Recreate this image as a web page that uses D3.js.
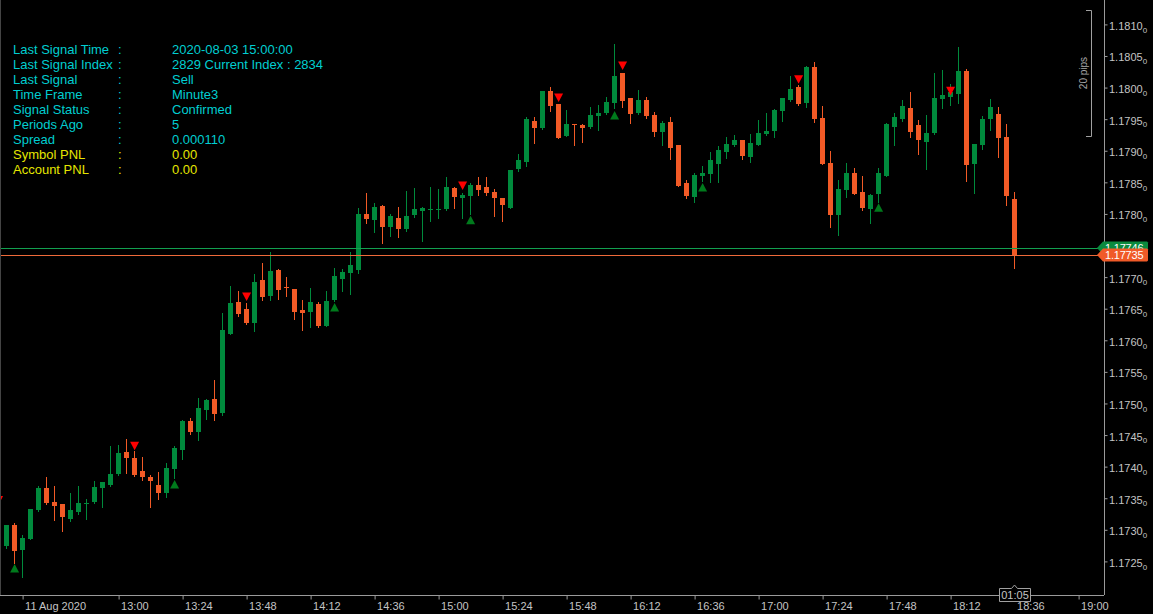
<!DOCTYPE html>
<html><head><meta charset="utf-8">
<script src="https://cdn.jsdelivr.net/npm/d3@7"></script>
<style>html,body{margin:0;padding:0;background:#000;overflow:hidden}</style>
</head><body><svg id="chart" width="1153" height="614"></svg>
<script>
// ---------- DATA ----------
const times = ["12:15","12:18","12:21","12:24","12:27","12:30","12:33","12:36","12:39","12:42","12:45","12:48","12:51","12:54","12:57",
"13:00","13:03","13:06","13:09","13:12","13:15","13:18","13:21","13:24","13:27","13:30","13:33","13:36","13:39","13:42","13:45","13:48","13:51","13:54","13:57",
"14:00","14:03","14:06","14:09","14:12","14:15","14:18","14:21","14:24","14:27","14:30","14:33","14:36","14:39","14:42","14:45","14:48","14:51","14:54","14:57",
"15:00","15:03","15:06","15:09","15:12","15:15","15:18","15:21","15:24","15:27","15:30","15:33","15:36","15:39","15:42","15:45","15:48","15:51","15:54","15:57",
"16:00","16:03","16:06","16:09","16:12","16:15","16:18","16:21","16:24","16:27","16:30","16:33","16:36","16:39","16:42","16:45","16:48","16:51","16:54","16:57",
"17:00","17:03","17:06","17:09","17:12","17:15","17:18","17:21","17:24","17:27","17:30","17:33","17:36","17:39","17:42","17:45","17:48","17:51","17:54","17:57",
"18:00","18:03","18:06","18:09","18:12","18:15","18:18","18:21","18:24","18:27","18:30","18:33","18:36"];

const open = [1.17327,1.17274,1.17308,1.17268,1.17285,1.17331,1.17366,1.17344,1.17341,1.17317,1.17328,1.17341,1.17344,1.17366,1.17371,
1.17388,1.17423,1.17414,1.17393,1.17384,1.17371,1.17358,1.17396,1.17426,1.17472,
1.17455,1.17490,1.17507,1.17485,1.17610,1.17661,1.17650,1.17627,1.17695,1.17670,
1.17711,1.17684,1.17681,1.17648,1.17645,1.17657,1.17623,1.17664,1.17697,1.17707,
1.17711,1.17800,1.17790,1.17813,1.17779,1.17794,1.17776,1.17798,1.17805,1.17807,
1.17807,1.17808,1.17841,1.17825,1.17828,1.17846,1.17843,1.17835,1.17825,1.17809,
1.17871,1.17882,1.17947,1.17936,1.17995,1.17974,1.17923,1.17942,1.17941,1.17938,
1.17955,1.17960,1.17976,1.18023,1.17983,1.17960,1.17980,1.17957,1.17930,1.17946,
1.17909,1.17849,1.17827,1.17860,1.17863,1.17879,1.17898,1.17909,1.17917,1.17890,
1.17909,1.17927,1.17931,1.17963,1.17980,1.18001,1.17976,1.18033,1.17952,1.17881,
1.17798,1.17838,1.17865,1.17835,1.17808,1.17832,1.17860,1.17938,1.17950,1.17968,
1.17941,1.17914,1.17928,1.17982,1.17985,1.17990,1.18026,1.17879,1.17909,1.17950,
1.17958,1.17922,1.17824];

const high = [1.17335,1.17308,1.17311,1.17291,1.17333,1.17369,1.17384,1.17369,1.17341,1.17358,1.17369,1.17349,1.17377,1.17376,1.17433,
1.17434,1.17444,1.17425,1.17415,1.17387,1.17392,1.17406,1.17433,1.17474,1.17477,
1.17509,1.17507,1.17537,1.17643,1.17686,1.17678,1.17659,1.17705,1.17722,1.17740,
1.17713,1.17700,1.17681,1.17664,1.17683,1.17661,1.17678,1.17714,1.17713,1.17740,
1.17809,1.17833,1.17817,1.17814,1.17800,1.17811,1.17836,1.17841,1.17811,1.17843,
1.17839,1.17858,1.17843,1.17833,1.17849,1.17858,1.17858,1.17839,1.17825,1.17870,
1.17895,1.17953,1.17953,1.17995,1.18001,1.17974,1.17965,1.17942,1.17942,1.17969,
1.17972,1.17985,1.18069,1.18023,1.17983,1.17996,1.17985,1.17961,1.17947,1.17953,
1.17909,1.17854,1.17865,1.17876,1.17898,1.17908,1.17922,1.17925,1.17917,1.17927,
1.17949,1.17960,1.17966,1.17983,1.18018,1.18004,1.18034,1.18040,1.17971,1.17900,
1.17854,1.17881,1.17873,1.17860,1.17832,1.17873,1.17944,1.17960,1.17980,1.17993,
1.17949,1.17957,1.18023,1.18028,1.18006,1.18064,1.18029,1.17911,1.17955,1.17982,
1.17969,1.17942,1.17835];

const low = [1.17271,1.17272,1.17248,1.17226,1.17285,1.17330,1.17341,1.17316,1.17298,1.17314,1.17325,1.17317,1.17342,1.17336,1.17369,
1.17387,1.17390,1.17385,1.17379,1.17336,1.17349,1.17352,1.17382,1.17412,1.17452,
1.17442,1.17475,1.17474,1.17482,1.17610,1.17638,1.17626,1.17615,1.17664,1.17664,
1.17665,1.17670,1.17634,1.17616,1.17621,1.17621,1.17623,1.17662,1.17678,1.17673,
1.17707,1.17786,1.17771,1.17754,1.17765,1.17763,1.17773,1.17795,1.17757,1.17789,
1.17794,1.17806,1.17809,1.17794,1.17800,1.17830,1.17830,1.17797,1.17789,1.17809,
1.17868,1.17876,1.17912,1.17934,1.17963,1.17920,1.17923,1.17909,1.17914,1.17936,
1.17933,1.17958,1.17968,1.17969,1.17944,1.17958,1.17952,1.17923,1.17909,1.17887,
1.17844,1.17825,1.17819,1.17852,1.17851,1.17851,1.17889,1.17908,1.17887,1.17882,
1.17909,1.17925,1.17922,1.17947,1.17979,1.17972,1.17969,1.17946,1.17879,1.17779,
1.17767,1.17827,1.17832,1.17806,1.17786,1.17819,1.17860,1.17909,1.17947,1.17922,
1.17895,1.17871,1.17927,1.17968,1.17972,1.17976,1.17852,1.17833,1.17903,1.17933,
1.17890,1.17814,1.17714];

const close = [1.17276,1.17308,1.17267,1.17287,1.17333,1.17366,1.17342,1.17338,1.17320,1.17331,1.17342,1.17342,1.17368,1.17376,1.17388,
1.17422,1.17414,1.17387,1.17384,1.17377,1.17358,1.17398,1.17430,1.17472,1.17455,
1.17493,1.17505,1.17483,1.17616,1.17659,1.17642,1.17627,1.17692,1.17669,1.17710,
1.17680,1.17683,1.17645,1.17643,1.17661,1.17623,1.17662,1.17702,1.17708,1.17719,
1.17800,1.17792,1.17811,1.17779,1.17797,1.17776,1.17797,1.17808,1.17809,1.17808,
1.17808,1.17843,1.17827,1.17830,1.17846,1.17838,1.17833,1.17825,1.17814,1.17870,
1.17885,1.17950,1.17936,1.17995,1.17971,1.17920,1.17942,1.17941,1.17936,1.17957,
1.17960,1.17977,1.18018,1.17979,1.17958,1.17980,1.17955,1.17930,1.17944,1.17904,
1.17844,1.17828,1.17862,1.17865,1.17885,1.17901,1.17911,1.17917,1.17892,1.17912,
1.17928,1.17931,1.17965,1.17983,1.17998,1.17974,1.18033,1.17950,1.17879,1.17798,
1.17839,1.17865,1.17832,1.17809,1.17830,1.17865,1.17942,1.17953,1.17971,1.17930,
1.17917,1.17928,1.17983,1.17988,1.17993,1.18026,1.17877,1.17911,1.17950,1.17969,
1.17920,1.17828,1.17735];

// signal arrows: time of bar and price at the arrow tip
const sellTimes  = ["12:15","13:06","13:48","15:09","15:45","16:09","17:15","18:12"];
const sellPrices = [1.17340,1.17426,1.17662,1.17838,1.17977,1.18028,1.18006,1.17988];
const buyTimes   = ["12:21","13:21","14:21","15:12","16:06","16:39","17:45"];
const buyPrices  = [1.17246,1.17379,1.17659,1.17797,1.17963,1.17849,1.17817];

const askPrice = 1.17746, bidPrice = 1.17735;
const priceTicks = [1.1725,1.1730,1.1735,1.1740,1.1745,1.1750,1.1755,1.1760,1.1765,1.1770,1.1775,1.1780,1.1785,1.1790,1.1795,1.1800,1.1805,1.1810];
const timeTicks = ["12:24","13:00","13:24","13:48","14:12","14:36","15:00","15:24","15:48","16:12","16:36","17:00","17:24","17:48","18:12","18:36","19:00"];
const timeTickLabels = ["11 Aug 2020","13:00","13:24","13:48","14:12","14:36","15:00","15:24","15:48","16:12","16:36","17:00","17:24","17:48","18:12","18:36","19:00"];
const countdown = "01:05";
const pipsLabel = "20 pips";

const infoLabels = ["Last Signal Time","Last Signal Index","Last Signal","Time Frame","Signal Status","Periods Ago","Spread","Symbol PNL","Account PNL"];
const infoValues = ["2020-08-03 15:00:00","2829 Current Index : 2834","Sell","Minute3","Confirmed","5","0.000110","0.00","0.00"];
const infoKinds  = ["c","c","c","c","c","c","c","y","y"];

// ---------- DRAW ----------
const parse = s => new Date(2020,7,11,+s.slice(0,2),+s.slice(3,5));
const svg = d3.select('#chart');
const plotR = 1104, plotB = 595;
const BULL = '#008a3c', BEAR = '#f25a26', AXIS = '#9a9a9a', TXT = '#c4c4c4';
const FONT = '"Liberation Sans", Arial, sans-serif';

svg.append('rect').attr('width',1153).attr('height',614).attr('fill','#000');

const x = d3.scaleTime().domain([parse("12:15"), parse("19:00")]).range([-1.4, 1078.6]);
const y = d3.scaleLinear().domain([1.1725, 1.1810]).range([561.4, 24.4]);

svg.append('clipPath').attr('id','plot').append('rect').attr('x',0).attr('y',0).attr('width',plotR).attr('height',plotB);
const plot = svg.append('g').attr('clip-path','url(#plot)');

// info panel
const info = svg.append('g').attr('font-family',FONT).attr('font-size',13);
infoLabels.forEach((lab,i)=>{
  const col = infoKinds[i]==='y' ? '#e6e600' : '#00ced1';
  const yy = 49 + i*15.1;
  info.append('text').attr('x',13).attr('y',yy).attr('dy','0.35em').attr('fill',col).text(lab);
  info.append('text').attr('x',118).attr('y',yy).attr('dy','0.35em').attr('fill',col).text(':');
  info.append('text').attr('x',172).attr('y',yy).attr('dy','0.35em').attr('fill',col).text(infoValues[i]);
});

// candles
const bars = times.map((t,i)=>({t:parse(t),o:open[i],h:high[i],l:low[i],c:close[i]}));
const cg = plot.append('g');
bars.forEach(b=>{
  const cx = Math.floor(x(b.t));
  const col = b.c >= b.o ? BULL : BEAR;
  cg.append('line').attr('x1',cx+0.5).attr('x2',cx+0.5)
    .attr('y1',Math.round(y(b.h))).attr('y2',Math.round(y(b.l))+1)
    .attr('stroke',col).attr('stroke-width',1);
  const top = Math.round(y(Math.max(b.o,b.c))), bot = Math.round(y(Math.min(b.o,b.c)));
  cg.append('rect').attr('x',cx-2).attr('width',5).attr('y',top).attr('height',Math.max(1,bot-top)).attr('fill',col);
});

// signal arrows
sellTimes.forEach((t,i)=>{
  const cx = x(parse(t)), ty = y(sellPrices[i]);
  plot.append('path').attr('d',`M${cx-4.5},${ty-8.5}L${cx+4.5},${ty-8.5}L${cx},${ty}Z`).attr('fill','#ff0000');
});
buyTimes.forEach((t,i)=>{
  const cx = x(parse(t)), ty = y(buyPrices[i]);
  plot.append('path').attr('d',`M${cx-4.5},${ty+8.5}L${cx+4.5},${ty+8.5}L${cx},${ty}Z`).attr('fill','#007a1c');
});

// ask/bid lines
const askY = Math.round(y(askPrice))+0.5, bidY = Math.round(y(bidPrice))+0.5;
svg.append('line').attr('x1',0).attr('x2',1098).attr('y1',askY).attr('y2',askY).attr('stroke','#12a050').attr('stroke-width',1);
svg.append('line').attr('x1',0).attr('x2',1098).attr('y1',bidY).attr('y2',bidY).attr('stroke','#ee6a3a').attr('stroke-width',1);

// left edge line
svg.append('line').attr('x1',0.5).attr('x2',0.5).attr('y1',0).attr('y2',plotB).attr('stroke','#444');

// right axis
const ra = svg.append('g').attr('transform',`translate(${plotR+0.5},0)`)
  .call(d3.axisRight(y).tickValues(priceTicks).tickSize(3).tickPadding(1.5).tickFormat(d=>d.toFixed(4)));
ra.select('.domain').attr('d',`M0,0V${plotB}`).attr('stroke',AXIS);
ra.selectAll('.tick line').attr('stroke',AXIS);
ra.selectAll('.tick text').attr('fill',TXT).attr('font-size',11)
  .attr('font-family',FONT).attr('dy','0.45em')
  .append('tspan').attr('font-size',8).attr('dy','0.35em').text('0');

// bottom axis
const ba = svg.append('g').attr('transform',`translate(0,${plotB+0.5})`)
  .call(d3.axisBottom(x).tickValues(timeTicks.map(parse)).tickSize(4).tickFormat((d,i)=>timeTickLabels[i]));
ba.select('.domain').attr('d',`M0,0H${plotR}`).attr('stroke',AXIS);
ba.selectAll('.tick line').attr('stroke',AXIS);
ba.selectAll('.tick text').attr('fill',TXT).attr('font-size',11).attr('text-anchor','start')
  .attr('font-family',FONT).attr('x',2).attr('y',6.5);

// price labels
function priceTag(yc, col, txt){
  svg.append('path').attr('d',`M1097,${yc}L1103,${yc-6.5}H1147L1148,${yc-5.5}V${yc+5.5}L1147,${yc+6.5}H1103Z`).attr('fill',col);
  svg.append('text').attr('x',1105).attr('y',yc).attr('dy','0.36em').attr('fill','#fff').attr('font-size',11)
    .attr('letter-spacing','-0.2').attr('font-family',FONT).text(txt);
}
priceTag(askY-0.5, '#0a8a3e', askPrice.toFixed(5));
priceTag(bidY-0.5, '#f05a28', bidPrice.toFixed(5));

// 20 pips bracket
svg.append('path').attr('d','M1086,10.5H1091.5V136.5H1086').attr('fill','none').attr('stroke','#a0a0a0');
svg.append('text').attr('transform','translate(1087,73) rotate(-90)').attr('text-anchor','middle')
  .attr('fill','#a8a8a8').attr('font-size',10).attr('font-family',FONT).text(pipsLabel);

// countdown box
const lastX = Math.floor(x(parse(times[times.length-1])))+0.5;
svg.append('path').attr('d',`M${lastX-15},588.5H${lastX-3}L${lastX},585L${lastX+3},588.5H${lastX+16}V601.5H${lastX-15}Z`)
  .attr('fill','#000').attr('stroke','#a0a0a0');
svg.append('text').attr('x',lastX+0.5).attr('y',595).attr('dy','0.36em').attr('text-anchor','middle')
  .attr('fill',TXT).attr('font-size',11).attr('font-family',FONT).text(countdown);
</script>
</body></html>
